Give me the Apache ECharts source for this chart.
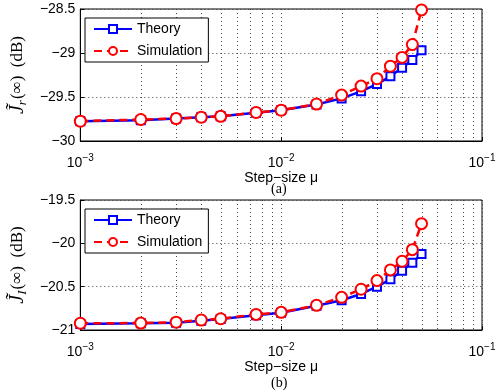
<!DOCTYPE html>
<html>
<head>
<meta charset="utf-8">
<script src="https://cdn.jsdelivr.net/npm/echarts@6/dist/echarts.min.js"></script>
<style>
  html, body { margin: 0; padding: 0; background: #fff; }
  #chart { width: 503px; height: 392px; }
</style>
</head>
<body>
<div id="chart"></div>
<script>
// step sizes (mu)
const stepSize = [0.001, 0.002, 0.003, 0.004, 0.005, 0.0075, 0.01, 0.015, 0.02, 0.025, 0.03, 0.035, 0.04, 0.045, 0.05];

// (a) J_r(inf) in dB
const theoryA = [-29.775, -29.764, -29.745, -29.73, -29.72, -29.68, -29.65, -29.585, -29.516, -29.436, -29.353, -29.265, -29.167, -29.08, -28.97];
const simA = [-29.775, -29.756, -29.745, -29.73, -29.72, -29.676, -29.65, -29.58, -29.478, -29.376, -29.292, -29.15, -29.05, -28.904, -28.51];

// (b) J_I(inf) in dB
const theoryB = [-20.93, -20.922, -20.915, -20.892, -20.873, -20.83, -20.80, -20.72, -20.657, -20.584, -20.50, -20.415, -20.315, -20.223, -20.123];
const simB = [-20.922, -20.92, -20.91, -20.885, -20.87, -20.82, -20.796, -20.715, -20.623, -20.53, -20.43, -20.307, -20.207, -20.073, -19.773];

// minor log grid positions
const minorX = [0.002, 0.003, 0.004, 0.005, 0.006, 0.007, 0.008, 0.009,
                0.02, 0.03, 0.04, 0.05, 0.06, 0.07, 0.08, 0.09];

const chart = echarts.init(document.getElementById('chart'));

const sans = 'Liberation Sans';
const serif = 'Liberation Serif';
const gridDot = { color: '#444', type: [1, 3], width: 1 };

const xAxisFor = (gridIndex) => ({
  type: 'log',
  gridIndex,
  min: 0.001,
  max: 0.1,
  logBase: 10,
  name: 'Step\u2212size \u03bc',
  nameLocation: 'middle',
  nameGap: 30,
  nameTextStyle: { fontFamily: sans, fontSize: 14, color: '#000' },
  axisLine: { lineStyle: { color: '#000', width: 1 } },
  axisTick: { inside: true, length: 4, lineStyle: { color: '#000' } },
  splitLine: { show: true, lineStyle: gridDot },
  axisLabel: {
    margin: 9,
    formatter: (v) => '{b|10}{s|\u2212' + Math.abs(Math.round(Math.log10(v))) + '}',
    rich: {
      b: { fontFamily: sans, fontSize: 14, color: '#000', padding: [6, 0, 0, 0] },
      s: { fontFamily: sans, fontSize: 10, color: '#000', padding: [0, 0, 4, 0] }
    }
  }
});

const yAxisFor = (gridIndex, min, max, sub) => ({
  type: 'value',
  gridIndex,
  min,
  max,
  interval: 0.5,
  name: '{j|J\u0303}{r|' + sub + '}{n|(\u221e)  (dB)}',
  nameLocation: 'middle',
  nameGap: 46,
  nameTextStyle: {
    rich: {
      j: { fontFamily: serif, fontStyle: 'italic', fontSize: 20, color: '#000' },
      r: { fontFamily: serif, fontStyle: 'italic', fontSize: 13, color: '#000', padding: [9, 1, 0, 0] },
      n: { fontFamily: serif, fontSize: 17, color: '#000' }
    }
  },
  axisLine: { show: true, lineStyle: { color: '#000' } },
  axisTick: { inside: true, length: 4, lineStyle: { color: '#000' } },
  splitLine: { show: true, lineStyle: gridDot },
  axisLabel: {
    fontFamily: sans,
    fontSize: 14,
    color: '#000',
    margin: 5,
    formatter: (v) => String(v).replace('-', '\u2212')
  }
});

// dotted minor grid lines of the log axis (snapped to the pixel grid)
const minorGrid = (idx, yMin) => ({
  type: 'custom',
  xAxisIndex: idx,
  yAxisIndex: idx,
  silent: true,
  data: minorX.map((v) => [v, yMin]),
  renderItem: (params, api) => {
    const x = Math.round(api.coord([api.value(0), api.value(1)])[0]) + 0.5;
    const cs = params.coordSys;
    return {
      type: 'line',
      shape: { x1: x, y1: cs.y, x2: x, y2: cs.y + cs.height },
      style: { stroke: gridDot.color, lineWidth: 1, lineDash: [1, 3] }
    };
  },
  z: 2
});

const theorySeries = (idx, vals) => ({
  name: 'Theory',
  type: 'line',
  xAxisIndex: idx,
  yAxisIndex: idx,
  data: stepSize.map((x, i) => [x, vals[i]]),
  symbol: 'emptyRect',
  symbolSize: 8,
  clip: false,
  lineStyle: { color: '#0000ff', width: 2.5 },
  itemStyle: { color: '#0000ff', borderColor: '#0000ff', borderWidth: 2 },
  z: 3
});

const simSeries = (idx, vals) => ({
  name: 'Simulation',
  type: 'line',
  xAxisIndex: idx,
  yAxisIndex: idx,
  data: stepSize.map((x, i) => [x, vals[i]]),
  symbol: 'emptyCircle',
  symbolSize: 11,
  clip: false,
  lineStyle: { color: '#ff0000', width: 2.5, type: [8, 5] },
  itemStyle: { color: '#ff0000', borderColor: '#ff0000', borderWidth: 2 },
  z: 4
});

const legendFor = (top) => ({
  orient: 'vertical',
  left: 85,
  top,
  backgroundColor: '#fff',
  borderColor: '#000',
  borderWidth: 1,
  padding: [4, 6, 4, 8],
  itemWidth: 38,
  itemHeight: 10,
  itemGap: 8,
  textStyle: { fontFamily: sans, fontSize: 14, color: '#000' },
  data: ['Theory', 'Simulation']
});

const option = {
  backgroundColor: '#fff',
  animation: false,
  title: [
    { text: '(a)', left: 266, top: 177, textStyle: { fontFamily: serif, fontSize: 14, fontWeight: 'normal', color: '#000' } },
    { text: '(b)', left: 266, top: 371, textStyle: { fontFamily: serif, fontSize: 14, fontWeight: 'normal', color: '#000' } }
  ],
  grid: [
    { left: 75, top: 9, width: 407, height: 132, show: true, borderColor: '#000', borderWidth: 1, backgroundColor: 'transparent' },
    { left: 75, top: 200, width: 407, height: 130, show: true, borderColor: '#000', borderWidth: 1, backgroundColor: 'transparent' }
  ],
  legend: [legendFor(18), legendFor(209)],
  xAxis: [xAxisFor(0), xAxisFor(1)],
  yAxis: [yAxisFor(0, -30, -28.5, 'r'), yAxisFor(1, -21, -19.5, 'I')],
  series: [
    minorGrid(0, -30),
    minorGrid(1, -21),
    theorySeries(0, theoryA),
    simSeries(0, simA),
    theorySeries(1, theoryB),
    simSeries(1, simB)
  ]
};

chart.setOption(option);
</script>
</body>
</html>
